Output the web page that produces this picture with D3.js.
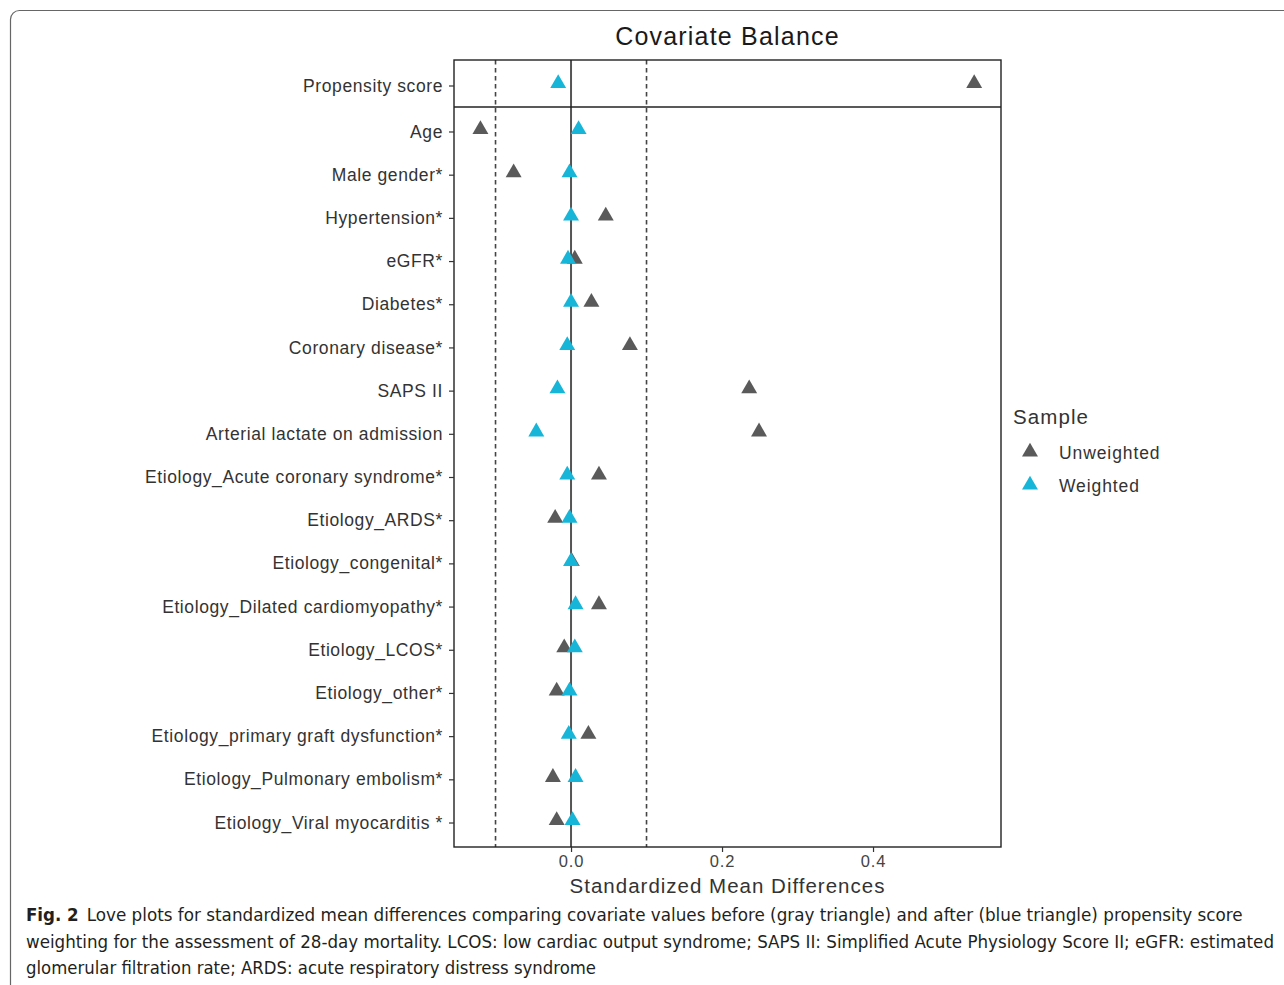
<!DOCTYPE html>
<html>
<head>
<meta charset="utf-8">
<script src="https://cdn.jsdelivr.net/npm/d3@7"></script>
<style>
  html, body { margin: 0; padding: 0; background: #fff; }
  svg { display: block; }
</style>
</head>
<body>
<svg id="chart" width="1284" height="985"></svg>
<script>
// ---- data ----
const topCategories = ["Propensity score"];
const covariates = [
  "Age", "Male gender*", "Hypertension*", "eGFR*", "Diabetes*", "Coronary disease*",
  "SAPS II", "Arterial lactate on admission", "Etiology_Acute coronary syndrome*",
  "Etiology_ARDS*", "Etiology_congenital*", "Etiology_Dilated cardiomyopathy*",
  "Etiology_LCOS*", "Etiology_other*", "Etiology_primary graft dysfunction*",
  "Etiology_Pulmonary embolism*", "Etiology_Viral myocarditis *"
];
const propensityUnweighted = [0.534];
const propensityWeighted = [-0.017];
const unweighted = [-0.120, -0.076, 0.046, 0.005, 0.027, 0.078, 0.236, 0.249, 0.037,
  -0.021, 0.001, 0.037, -0.009, -0.019, 0.023, -0.024, -0.019];
const weighted = [0.010, -0.002, 0.000, -0.004, 0.000, -0.005, -0.018, -0.046, -0.005,
  -0.002, 0.000, 0.006, 0.005, -0.002, -0.003, 0.006, 0.002];
const xTicks = [0, 0.2, 0.4];
const thresholds = [-0.1, 0.1];
const seriesNames = ["Unweighted", "Weighted"];
const seriesColors = ["#5a5a5a", "#17b6d8"];
const chartTitle = "Covariate Balance";
const xTitle = "Standardized Mean Differences";
const legendTitle = "Sample";
const captionBold = "Fig. 2";
const captionLines = [
  "Love plots for standardized mean differences comparing covariate values before (gray triangle) and after (blue triangle) propensity score",
  "weighting for the assessment of 28-day mortality. LCOS: low cardiac output syndrome; SAPS II: Simplified Acute Physiology Score II; eGFR: estimated",
  "glomerular filtration rate; ARDS: acute respiratory distress syndrome"
];

// ---- layout ----
const svg = d3.select("#chart");
const panel = { left: 454, right: 1001, top: 60, sep: 107, bottom: 847 };
const font = "'Liberation Sans', Arial, sans-serif";

// outer frame
svg.append("rect")
  .attr("x", 10.5).attr("y", 10.5)
  .attr("width", 1300).attr("height", 1000)
  .attr("rx", 9).attr("ry", 9)
  .attr("fill", "none").attr("stroke", "#666").attr("stroke-width", 1.2);

const x = d3.scaleLinear().domain([-0.155, 0.5695]).range([panel.left, panel.right]);
const yTop = d3.scalePoint().domain(topCategories).range([panel.top, panel.sep]).padding(0.5);
const yBot = d3.scalePoint().domain(covariates).range([panel.sep, panel.bottom]).padding(0.567);

// reference lines (both facets)
thresholds.forEach(t => {
  svg.append("line")
    .attr("x1", x(t)).attr("x2", x(t))
    .attr("y1", panel.top).attr("y2", panel.bottom)
    .attr("stroke", "#444").attr("stroke-width", 1.6)
    .attr("stroke-dasharray", "4.5,3.5");
});
svg.append("line")
  .attr("x1", x(0)).attr("x2", x(0))
  .attr("y1", panel.top).attr("y2", panel.bottom)
  .attr("stroke", "#555").attr("stroke-width", 2);

// panel borders
svg.append("rect")
  .attr("x", panel.left).attr("y", panel.top)
  .attr("width", panel.right - panel.left).attr("height", panel.bottom - panel.top)
  .attr("fill", "none").attr("stroke", "#222").attr("stroke-width", 1.4);
svg.append("line")
  .attr("x1", panel.left).attr("x2", panel.right)
  .attr("y1", panel.sep).attr("y2", panel.sep)
  .attr("stroke", "#222").attr("stroke-width", 1.4);

// y axes
function styleAxis(g) {
  g.select(".domain").remove();
  g.selectAll(".tick line").attr("stroke", "#333").attr("stroke-width", 1.2);
  g.selectAll(".tick text").attr("fill", "#333").attr("font-family", font)
    .attr("font-size", 17.5).attr("letter-spacing", 0.6);
}
svg.append("g").attr("transform", `translate(${panel.left},2)`)
  .call(d3.axisLeft(yTop).tickSize(5).tickPadding(6)).call(styleAxis);
svg.append("g").attr("transform", `translate(${panel.left},0)`)
  .call(d3.axisLeft(yBot).tickSize(5).tickPadding(6)).call(styleAxis);

// x axis
const xAxis = svg.append("g").attr("transform", `translate(0,${panel.bottom})`)
  .call(d3.axisBottom(x).tickValues(xTicks).tickFormat(d3.format(".1f")).tickSize(5).tickPadding(3));
xAxis.select(".domain").remove();
xAxis.selectAll(".tick line").attr("stroke", "#333").attr("stroke-width", 1.2);
xAxis.selectAll(".tick text").attr("fill", "#444").attr("font-family", font)
  .attr("font-size", 16.5).attr("letter-spacing", 0.8);

// points
const tri = d3.symbol().type(d3.symbolTriangle).size(110);
function drawPoints(cats, vals, yScale, color, dy) {
  svg.append("g").selectAll("path")
    .data(cats.map((c, i) => ({ c, v: vals[i] })))
    .join("path")
    .attr("d", tri)
    .attr("transform", d => `translate(${x(d.v)},${yScale(d.c) + dy})`)
    .attr("fill", color);
}
drawPoints(topCategories, propensityUnweighted, yTop, seriesColors[0], 0);
drawPoints(covariates, unweighted, yBot, seriesColors[0], -2);
drawPoints(topCategories, propensityWeighted, yTop, seriesColors[1], 0);
drawPoints(covariates, weighted, yBot, seriesColors[1], -2);

// title
svg.append("text").attr("x", (panel.left + panel.right) / 2).attr("y", 45)
  .attr("text-anchor", "middle").attr("font-family", font).attr("font-size", 25)
  .attr("letter-spacing", 1.2).attr("fill", "#1a1a1a").text(chartTitle);

// x title
svg.append("text").attr("x", (panel.left + panel.right) / 2).attr("y", 893)
  .attr("text-anchor", "middle").attr("font-family", font).attr("font-size", 20.5)
  .attr("letter-spacing", 1).attr("fill", "#333").text(xTitle);

// legend
svg.append("text").attr("x", 1013).attr("y", 424)
  .attr("font-family", font).attr("font-size", 20.5).attr("letter-spacing", 1.1)
  .attr("fill", "#333").text(legendTitle);
seriesNames.forEach((s, i) => {
  const ly = 452 + i * 33;
  svg.append("path").attr("d", tri).attr("transform", `translate(1030,${ly})`).attr("fill", seriesColors[i]);
  svg.append("text").attr("x", 1059).attr("y", ly + 7)
    .attr("font-family", font).attr("font-size", 17.5).attr("letter-spacing", 0.9)
    .attr("fill", "#333").text(s);
});

// caption
const capFont = "'Liberation Sans Narrow', 'DejaVu Sans Condensed', 'Open Sans', sans-serif";
const cap = svg.append("text").attr("font-family", capFont).attr("font-size", 18.5).attr("fill", "#231f20");
const l1 = cap.append("tspan").attr("x", 26).attr("y", 921);
l1.append("tspan").attr("font-weight", "bold").text(captionBold);
l1.append("tspan").attr("dx", 8).text(captionLines[0]);
const capWidths = [1238 - 82, 1274 - 26, 596 - 26];
const capX = [82, 26, 26];
captionLines.forEach((t, i) => {
  if (i === 0) return;
  svg.append("text").attr("x", capX[i]).attr("y", 921 + i * 26.5)
    .attr("font-family", capFont).attr("font-size", 18.5).attr("fill", "#231f20")
    .attr("textLength", capWidths[i]).attr("lengthAdjust", "spacingAndGlyphs")
    .text(t);
});
// fit first line
l1.select("tspan:last-child").attr("textLength", capWidths[0]).attr("lengthAdjust", "spacingAndGlyphs");
</script>
</body>
</html>
